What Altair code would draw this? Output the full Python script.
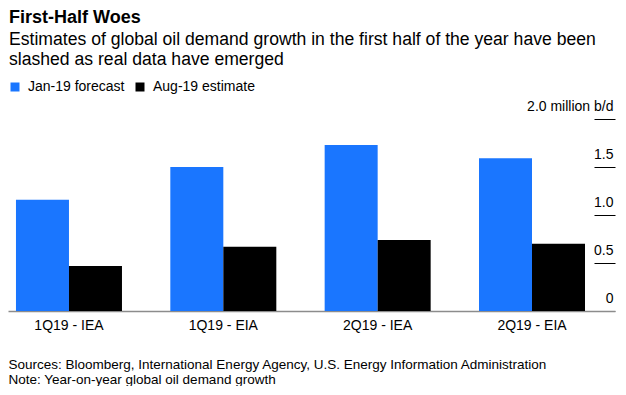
import altair as alt
import pandas as pd

categories = ["1Q19 - IEA", "1Q19 - EIA", "2Q19 - IEA", "2Q19 - EIA"]
series = ["Jan-19 forecast", "Aug-19 estimate"]
jan19 = [1.16, 1.50, 1.73, 1.59]
aug19 = [0.47, 0.67, 0.74, 0.70]
colors = ["#1a76ff", "#000000"]
y_ticks = [0, 0.5, 1.0, 1.5, 2.0]

title_text = "First-Half Woes"
subtitle_lines = [
    "Estimates of global oil demand growth in the first half of the year have been",
    "slashed as real data have emerged",
]
footer_lines = [
    "Sources: Bloomberg, International Energy Agency, U.S. Energy Information Administration",
    "Note: Year-on-year global oil demand growth",
]

rows = []
for c, a, b in zip(categories, jan19, aug19):
    rows.append({"cat": c, "series": series[0], "value": a})
    rows.append({"cat": c, "series": series[1], "value": b})
df = pd.DataFrame(rows)

FONT = "Liberation Sans"
W, H = 607, 192

chart = (
    alt.Chart(df)
    .mark_bar()
    .encode(
        x=alt.X(
            "cat:N",
            sort=categories,
            scale=alt.Scale(paddingInner=0.3132, paddingOuter=0.123, align=0.21, round=False),
            axis=alt.Axis(
                title=footer_lines,
                titleFont=FONT,
                titleFontSize=13.5,
                titleFontWeight="normal",
                titleColor="#000000",
                titleAnchor="start",
                titleAlign="left",
                titleBaseline="alphabetic",
                titleX=0,
                titleY=57,
                titleLineHeight=15,
                labelAngle=0,
                labelFont=FONT,
                labelFontSize=14,
                labelColor="#000000",
                labelPadding=7,
                ticks=False,
                domainColor="#8c8c8c",
                domainWidth=1.5,
                grid=False,
            ),
        ),
        xOffset=alt.XOffset(
            "series:N", sort=series, scale=alt.Scale(paddingInner=0, paddingOuter=0)
        ),
        y=alt.Y(
            "value:Q",
            scale=alt.Scale(domain=[0, 2], nice=False),
            axis=alt.Axis(
                orient="right",
                offset=-21,
                values=y_ticks,
                tickSize=21,
                tickColor={"condition": {"test": "datum.value == 0", "value": "#8c8c8c"}, "value": "#000000"},
                tickWidth=1,
                domain=False,
                grid=False,
                title=None,
                labelAlign="right",
                labelBaseline="alphabetic",
                labelPadding=-2,
                labelOffset=-9,
                labelFont=FONT,
                labelFontSize=14,
                labelColor="#000000",
                labelOverlap=False,
                labelExpr="datum.value == 2 ? '2.0 million b/d' : datum.value == 0 ? '0' : format(datum.value, '.1f')",
            ),
        ),
        color=alt.Color(
            "series:N",
            sort=series,
            scale=alt.Scale(domain=series, range=colors),
            legend=alt.Legend(
                title=None,
                orient="none",
                legendX=0,
                legendY=-39,
                direction="horizontal",
                symbolType="square",
                symbolSize=81,
                symbolStrokeWidth=0,
                labelFont=FONT,
                labelFontSize=14,
                labelColor="#000000",
                labelOffset=6,
                columnPadding=8,
                padding=0,
            ),
        ),
    )
    .properties(
        width=W,
        height=H,
        padding={"left": 0, "top": 1, "right": 0, "bottom": 0},
        title=alt.TitleParams(
            text=title_text,
            subtitle=subtitle_lines,
            anchor="start",
            font=FONT,
            fontSize=18,
            fontWeight="bold",
            color="#000000",
            subtitleFont=FONT,
            subtitleFontSize=17.6,
            subtitleColor="#000000",
            subtitleLineHeight=20,
            subtitlePadding=4,
            offset=11,
            dx=1,
        ),
    )
    .configure_view(stroke=None)
)

chart.save("out.html", embed_options={"renderer": "svg", "actions": False})
